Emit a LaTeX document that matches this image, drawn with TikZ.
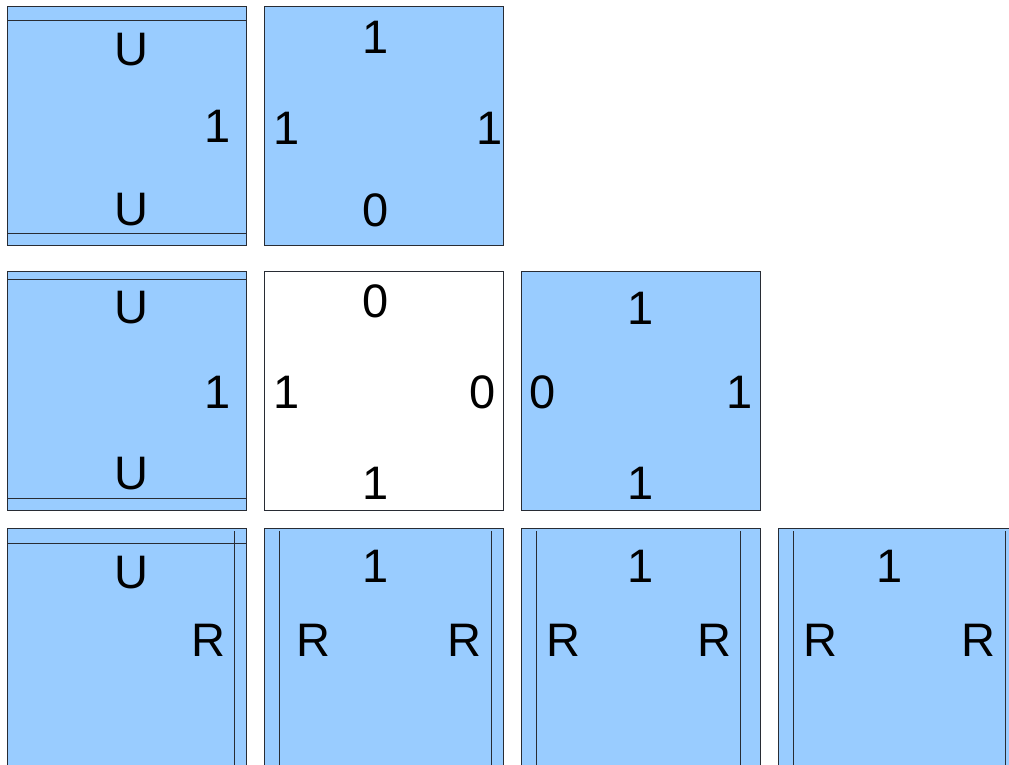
\documentclass[tikz,border=0pt]{standalone}
\usepackage{fontspec}
\setmainfont{Liberation Sans}
\usetikzlibrary{positioning}
\definecolor{tileblue}{RGB}{153,204,255}
\definecolor{tileedge}{RGB}{40,44,52}

\begin{document}
\begin{tikzpicture}[x=1pt,y=-1pt]
  \tikzstyle{tile}=[draw=tileedge,line width=1pt,fill=tileblue,minimum width=239pt,minimum height=239pt,inner sep=0pt]
  \tikzstyle{blank}=[tile,fill=white]
  \tikzstyle{lab}=[inner sep=0pt,font=\fontsize{47}{56}\selectfont]
  \tikzstyle{seam}=[draw=tileedge,line width=1pt]

  \clip (0,0) rectangle (1009,765);
  \useasboundingbox (0,0) rectangle (1009,765);

  % row 1
  \node[tile] (t11) at (127,126) {};
  \node[tile] (t12) at (384,126) {};
  % row 2
  \node[tile] (t21) at (127,391) {};
  \node[blank] (t22) at (384,391) {};
  \node[tile] (t23) at (641,391) {};
  % row 3
  \node[tile] (t31) at (127,648) {};
  \node[tile] (t32) at (384,648) {};
  \node[tile] (t33) at (641,648) {};
  \node[tile] (t34) at (898,648) {};

  % seams
  \draw[seam] ([yshift=-15pt]t11.north west) -- ([yshift=-15pt]t11.north east);
  \draw[seam] ([yshift=13pt]t11.south west) -- ([yshift=13pt]t11.south east);
  \draw[seam] ([yshift=-8pt]t21.north west) -- ([yshift=-8pt]t21.north east);
  \draw[seam] ([yshift=13pt]t21.south west) -- ([yshift=13pt]t21.south east);
  \draw[seam] ([yshift=-15pt]t31.north west) -- ([yshift=-15pt]t31.north east);
  \draw[seam] ([xshift=-13pt,yshift=-3pt]t31.north east) -- ([xshift=-13pt]t31.south east);
  \draw[seam] ([xshift=15pt,yshift=-3pt]t32.north west) -- ([xshift=15pt]t32.south west);
  \draw[seam] ([xshift=-13pt,yshift=-3pt]t32.north east) -- ([xshift=-13pt]t32.south east);
  \draw[seam] ([xshift=15pt,yshift=-3pt]t33.north west) -- ([xshift=15pt]t33.south west);
  \draw[seam] ([xshift=-21pt,yshift=-3pt]t33.north east) -- ([xshift=-21pt]t33.south east);
  \draw[seam] ([xshift=15pt,yshift=-3pt]t34.north west) -- ([xshift=15pt]t34.south west);
  \draw[seam] ([xshift=-13pt,yshift=-3pt]t34.north east) -- ([xshift=-13pt]t34.south east);

  % labels
  \node[lab] (t11n) at (131,50) {U};
  \node[lab] (t11e) at (218,126) {1};
  \node[lab] (t11s) at (131,210) {U};

  \node[lab] (t12n) at (376,37) {1};
  \node[lab] (t12w) at (287,128) {1};
  \node[lab] (t12e) at (490,128) {1};
  \node[lab] (t12s) at (376,210) {0};

  \node[lab] (t21n) at (131,308) {U};
  \node[lab] (t21e) at (218,392) {1};
  \node[lab] (t21s) at (131,474) {U};

  \node[lab] (t22n) at (376,301) {0};
  \node[lab] (t22w) at (287,392) {1};
  \node[lab] (t22e) at (483,392) {0};
  \node[lab] (t22s) at (376,483) {1};

  \node[lab] (t23n) at (641,308) {1};
  \node[lab] (t23w) at (543,392) {0};
  \node[lab] (t23e) at (740,392) {1};
  \node[lab] (t23s) at (641,483) {1};

  \node[lab] (t31n) at (131,573) {U};
  \node[lab] (t31e) at (208,640) {R};

  \node[lab] (t32n) at (376,566) {1};
  \node[lab] (t32w) at (313,640) {R};
  \node[lab] (t32e) at (464,640) {R};

  \node[lab] (t33n) at (641,566) {1};
  \node[lab] (t33w) at (563,640) {R};
  \node[lab] (t33e) at (714,640) {R};

  \node[lab] (t34n) at (890,566) {1};
  \node[lab] (t34w) at (820,640) {R};
  \node[lab] (t34e) at (978,640) {R};
\end{tikzpicture}
\end{document}
